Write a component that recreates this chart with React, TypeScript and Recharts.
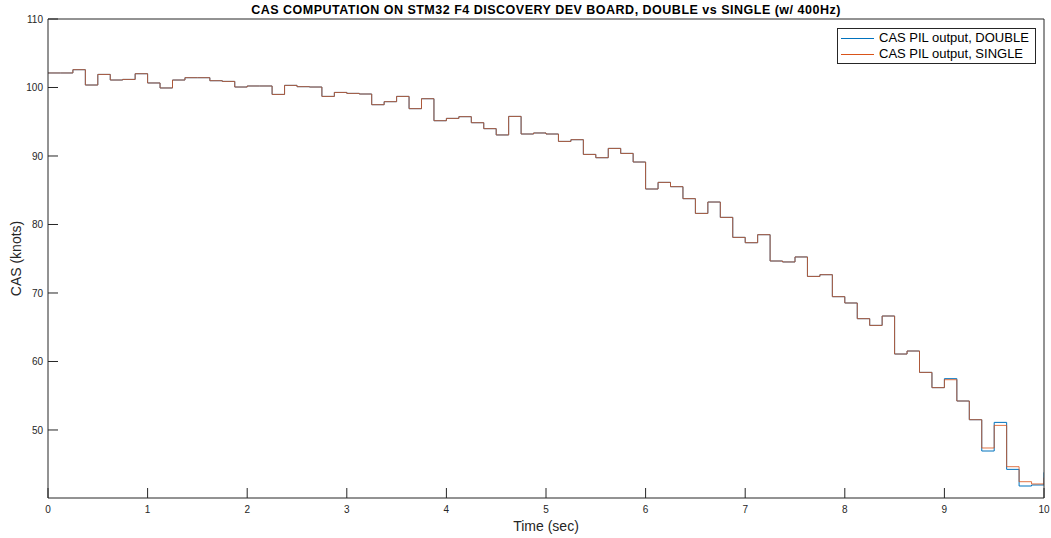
import { LineChart, Line, XAxis, YAxis } from 'recharts'

// sample period of the PIL log (s)
const SAMPLE_DT = 0.125

const casDouble = [
  102.12, 102.12, 102.6, 100.36, 101.91, 101.09, 101.18, 102.01, 100.66, 99.93,
  101.09, 101.43, 101.43, 100.99, 100.89, 100.07, 100.22, 100.22, 98.99, 100.31,
  100.12, 100.07, 98.7, 99.28, 99.14, 99.05, 97.49, 97.93, 98.7, 96.91,
  98.36, 95.15, 95.49, 95.74, 94.86, 93.99, 93.07, 95.78, 93.21, 93.36,
  93.21, 92.13, 92.38, 90.23, 89.75, 91.11, 90.38, 89.12, 85.18, 86.15,
  85.52, 83.77, 81.62, 83.28, 81.04, 78.12, 77.34, 78.51, 74.67, 74.53,
  75.26, 72.42, 72.67, 69.46, 68.54, 66.25, 65.27, 66.64, 61.09, 61.53,
  58.41, 56.18, 57.49, 54.23, 51.5, 46.93, 51.11, 44.25, 41.82, 41.97,
  43.81,
]

const casSingle = [
  102.12, 102.12, 102.6, 100.36, 101.91, 101.09, 101.18, 102.01, 100.66, 99.93,
  101.09, 101.43, 101.43, 100.99, 100.89, 100.07, 100.22, 100.22, 98.99, 100.31,
  100.12, 100.07, 98.7, 99.28, 99.14, 99.05, 97.49, 97.93, 98.7, 96.91,
  98.36, 95.15, 95.49, 95.74, 94.86, 93.99, 93.07, 95.78, 93.21, 93.36,
  93.21, 92.13, 92.38, 90.23, 89.75, 91.11, 90.38, 89.12, 85.18, 86.15,
  85.52, 83.77, 81.62, 83.28, 81.04, 78.12, 77.34, 78.51, 74.67, 74.53,
  75.26, 72.42, 72.67, 69.46, 68.54, 66.25, 65.27, 66.64, 61.09, 61.53,
  58.41, 56.18, 57.34, 54.23, 51.5, 47.37, 50.67, 44.64, 42.45, 42.12,
  43.04,
]

const xTicks = [0, 1, 2, 3, 4, 5, 6, 7, 8, 9, 10]
const yTicks = [50, 60, 70, 80, 90, 100, 110]

const series = [
  { key: 'dbl', name: 'CAS PIL output, DOUBLE', color: '#0072BD' },
  { key: 'sgl', name: 'CAS PIL output, SINGLE', color: '#D95319' },
]

const data = casDouble.map((v, i) => ({ t: i * SAMPLE_DT, dbl: v, sgl: casSingle[i] }))

const FONT = '"Liberation Sans", Arial, Helvetica, sans-serif'
const AX = '#262626'
const tickStyle = { fill: AX, fontSize: 10 }
const Y_DOMAIN: [number, number] = [40.07, 110]

function LegendBox() {
  return (
    <div style={{
      position: 'absolute', left: 837, top: 28, background: '#fff',
      border: `1px solid ${AX}`, padding: '1px 6px 1px 2px',
      fontFamily: FONT, fontSize: 13, lineHeight: '16px', color: '#000',
    }}>
      {series.map(s => (
        <div key={s.key} style={{ display: 'flex', alignItems: 'center', whiteSpace: 'nowrap' }}>
          <span style={{ display: 'inline-block', width: 33, borderTop: `1px solid ${s.color}`, margin: '0 5px 0 1px' }} />
          {s.name}
        </div>
      ))}
    </div>
  )
}

export default function App() {
  return (
    <div style={{ position: 'absolute', left: 0, top: 0, width: 1051, height: 538, background: '#fff' }}>
      <LineChart
        width={1051} height={538} data={data}
        margin={{ top: 18, right: 6, left: 0, bottom: 0 }}
        style={{ fontFamily: FONT }}
      >
        <XAxis
          dataKey="t" type="number" domain={[0, 10]} ticks={xTicks} height={40}
          stroke={AX} tick={tickStyle} tickSize={-10} tickMargin={18}
          allowDataOverflow
          label={{ value: 'Time (sec)', position: 'insideBottom', offset: 7, fill: AX, fontSize: 14 }}
        />
        <XAxis
          xAxisId="top" orientation="top" dataKey="t" type="number" domain={[0, 10]} ticks={xTicks}
          height={1} stroke={AX} tick={false} tickSize={-9} allowDataOverflow
          label={{
            value: 'CAS COMPUTATION ON STM32 F4 DISCOVERY DEV BOARD, DOUBLE vs SINGLE (w/ 400Hz)',
            position: 'top', offset: 4, fill: '#000', fontSize: 12.5, fontWeight: 'bold',
            style: { letterSpacing: 0.5 },
          }}
        />
        <YAxis
          type="number" domain={Y_DOMAIN} ticks={yTicks} width={48}
          stroke={AX} tick={tickStyle} tickSize={-10} tickMargin={15}
          allowDataOverflow
          label={{ value: 'CAS (knots)', angle: -90, position: 'insideLeft', offset: 16, fill: AX, fontSize: 14, style: { textAnchor: 'middle' } }}
        />
        <YAxis
          yAxisId="right" orientation="right" type="number" domain={Y_DOMAIN} ticks={yTicks}
          width={1} stroke={AX} tick={false} tickSize={-10} allowDataOverflow
        />
        <Line
          xAxisId="top" yAxisId="right"
          type="stepAfter" dataKey="dbl" name={series[0].name} stroke={series[0].color}
          strokeWidth={1} dot={false} isAnimationActive={false}
        />
        <Line
          type="stepAfter" dataKey="sgl" name={series[1].name} stroke={series[1].color}
          strokeWidth={1} strokeOpacity={0.8} dot={false} isAnimationActive={false}
        />
      </LineChart>
      <LegendBox />
    </div>
  )
}
